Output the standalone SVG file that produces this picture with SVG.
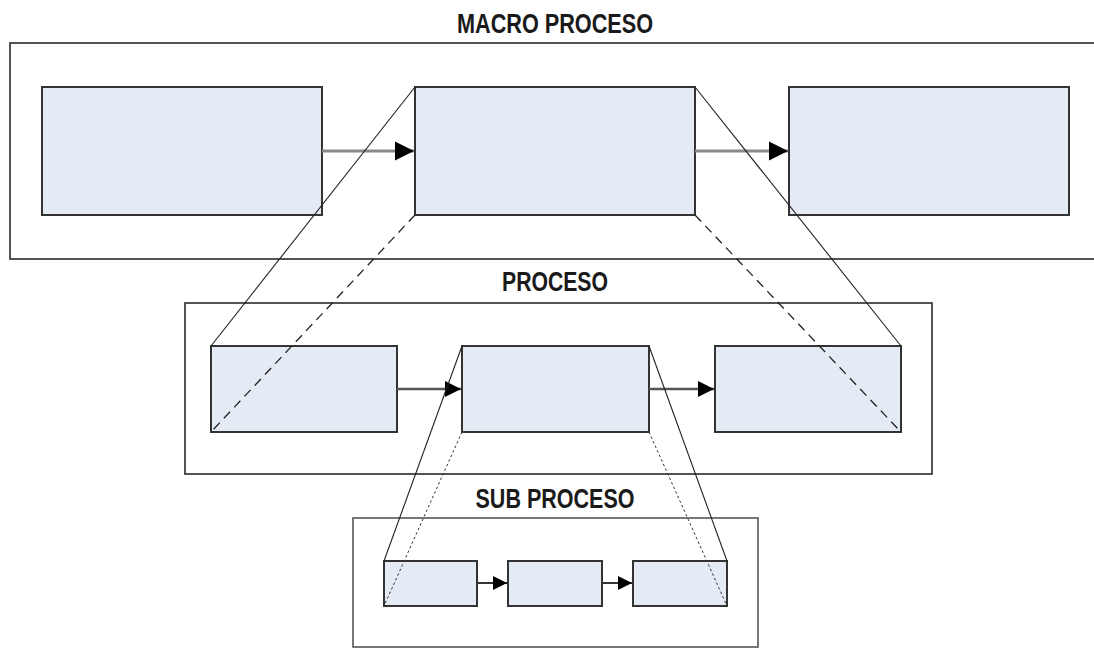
<svg xmlns="http://www.w3.org/2000/svg" width="1094" height="648" viewBox="0 0 1094 648">
  <style>
    .frame { fill: #ffffff; stroke: #2a2a2a; stroke-width: 1.6; }
    .frame-sub { fill: #ffffff; stroke: #555555; stroke-width: 1.6; }
    .step { fill: #e4ebf5; stroke: #333333; stroke-width: 2; }
    .title { font-family: "Liberation Sans", Arial, sans-serif; font-weight: bold; font-size: 27px; fill: #1a1a1a; text-anchor: middle; }
    .flow { stroke: #8a8a8a; stroke-width: 3; fill: none; marker-end: url(#head); }
    .zoom { stroke: #222222; stroke-width: 1.1; fill: none; }
    .zoom-dash { stroke: #222222; stroke-width: 1.3; fill: none; stroke-dasharray: 9 6; }
    .zoom-dot { stroke: #333333; stroke-width: 1; fill: none; stroke-dasharray: 2.5 2.5; }
  </style>
  <defs>
    <marker id="head" viewBox="0 0 10 10" refX="10" refY="5" markerWidth="6.5" markerHeight="6.5" markerUnits="strokeWidth" orient="auto">
      <path d="M0,0 L10,5 L0,10 Z" fill="#000000"/>
    </marker>
    <marker id="head-sm" viewBox="0 0 10 10" refX="10" refY="5" markerWidth="7" markerHeight="7" markerUnits="strokeWidth" orient="auto">
      <path d="M0,0 L10,5 L0,10 Z" fill="#000000"/>
    </marker>
  </defs>

  <!-- Level 1: macro process -->
  <g id="macro">
    <rect class="frame" x="10" y="43" width="1100" height="216"/>
    <text class="title" x="555" y="33" textLength="196" lengthAdjust="spacingAndGlyphs">MACRO PROCESO</text>
    <rect id="macro-1" class="step" x="42" y="87" width="280" height="128"/>
    <rect id="macro-2" class="step" x="415" y="87" width="280" height="128"/>
    <rect id="macro-3" class="step" x="789" y="87" width="280" height="128"/>
  </g>

  <!-- Level 2: process -->
  <g id="proceso">
    <rect class="frame" x="185" y="303" width="747" height="171"/>
    <text class="title" x="555" y="291" textLength="106" lengthAdjust="spacingAndGlyphs">PROCESO</text>
    <rect id="proceso-1" class="step" x="211" y="346" width="186" height="86"/>
    <rect id="proceso-2" class="step" x="462" y="346" width="187" height="86"/>
    <rect id="proceso-3" class="step" x="715" y="346" width="186" height="86"/>
  </g>

  <!-- Level 3: sub process -->
  <g id="subproceso">
    <rect class="frame-sub" x="353" y="518" width="405" height="129"/>
    <text class="title" x="555" y="508" textLength="159" lengthAdjust="spacingAndGlyphs">SUB PROCESO</text>
    <rect id="sub-1" class="step" x="384" y="561" width="93" height="45"/>
    <rect id="sub-2" class="step" x="508" y="561" width="94" height="45"/>
    <rect id="sub-3" class="step" x="633" y="561" width="94" height="45"/>
  </g>

  <g id="connectors">
    <!-- sequence arrows -->
    <line class="flow" x1="322" y1="151" x2="414" y2="151"/>
    <line class="flow" x1="695" y1="151" x2="788" y2="151"/>
    <line class="flow" x1="397" y1="389" x2="461" y2="389" style="stroke:#555555;stroke-width:2.5"/>
    <line class="flow" x1="649" y1="389" x2="714" y2="389" style="stroke:#555555;stroke-width:2.5"/>
    <line class="flow" x1="477" y1="583" x2="507" y2="583" style="stroke:#333333;stroke-width:2;marker-end:url(#head-sm)"/>
    <line class="flow" x1="602" y1="583" x2="632" y2="583" style="stroke:#333333;stroke-width:2;marker-end:url(#head-sm)"/>

    <!-- expansion of macro step 2 into the process level -->
    <line class="zoom" x1="415" y1="87" x2="211" y2="346"/>
    <line class="zoom-dash" x1="415" y1="215" x2="211" y2="432"/>
    <line class="zoom" x1="695" y1="87" x2="901" y2="346"/>
    <line class="zoom-dash" x1="695" y1="215" x2="901" y2="432"/>

    <!-- expansion of process step 2 into the sub process level -->
    <line class="zoom" x1="462" y1="346" x2="384" y2="561"/>
    <line class="zoom-dot" x1="462" y1="432" x2="384" y2="606"/>
    <line class="zoom" x1="649" y1="346" x2="727" y2="561"/>
    <line class="zoom-dot" x1="649" y1="432" x2="727" y2="606"/>
  </g>
</svg>
